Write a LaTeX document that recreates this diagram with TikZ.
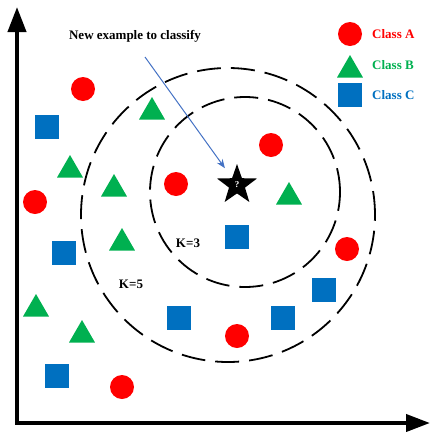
\documentclass[tikz,border=0pt]{standalone}
\usepackage{fontspec}
\setmainfont{Liberation Serif}
\usetikzlibrary{arrows.meta,positioning,shapes.geometric}
\definecolor{clsred}{HTML}{FF0000}
\definecolor{clsgreen}{HTML}{00B050}
\definecolor{clsblue}{HTML}{0070C0}
\definecolor{ptrblue}{HTML}{4472C4}
\tikzset{
  % punkter
  ca/.style={circle,fill=clsred,inner sep=0pt,minimum size=24pt},
  cb/.style={regular polygon,regular polygon sides=3,fill=clsgreen,inner sep=0pt,
             minimum size=30pt},
  cc/.style={rectangle,fill=clsblue,inner sep=0pt,minimum size=24pt},
  nb/.style={star,star points=5,star point ratio=2.5,fill=black,inner sep=0pt,
             minimum size=42pt,text=white,font=\bfseries\fontsize{9}{9}\selectfont},
  % linjer
  ring/.style={draw=black,line width=1.8pt,dash pattern=on 24pt off 10pt},
  axis/.style={line width=4pt,line join=miter,
               {Triangle[length=25pt,width=18pt]}-{Triangle[length=24pt,width=17pt]}},
  ptr/.style={draw=ptrblue,line width=1pt,-{Stealth[length=9pt,width=7pt]},shorten >=12pt},
  lbl/.style={font=\bfseries\fontsize{13}{15}\selectfont,inner sep=0pt},
}

\begin{document}
\begin{tikzpicture}[x=1pt,y=-1pt]
  \useasboundingbox (0,0) rectangle (430,432);
  % axlar
  \coordinate (yt) at (17,7);
  \coordinate (o) at (17,423);
  \coordinate (xt) at (430,423);
  \draw[axis] (yt) -- (o) -- (xt);
  % grannskap
  \draw[ring] (228,215) circle[radius=147pt];
  \draw[ring] (245,192) circle[radius=95pt];
  % klass A
  \node[ca] (a1) at (83,89) {};
  \node[ca] (a2) at (35,202) {};
  \node[ca] (a3) at (176,184) {};
  \node[ca] (a4) at (271,145) {};
  \node[ca] (a5) at (347,249) {};
  \node[ca] (a6) at (237,336) {};
  \node[ca] (a7) at (122,387) {};
  % klass B
  \node[cb] (b1) at (152,112) {};
  \node[cb] (b2) at (70,170) {};
  \node[cb] (b3) at (114,189) {};
  \node[cb] (b4) at (289,197) {};
  \node[cb] (b5) at (122,243) {};
  \node[cb] (b6) at (36,309) {};
  \node[cb] (b7) at (82,335) {};
  % klass C
  \node[cc] (c1) at (47,127) {};
  \node[cc] (c2) at (64,253) {};
  \node[cc] (c3) at (179,318) {};
  \node[cc] (c4) at (57,376) {};
  \node[cc] (c5) at (237,237) {};
  \node[cc] (c6) at (324,290) {};
  \node[cc] (c7) at (283,318) {};
  % nytt exempel
  \node[nb] (q) at (237,185) {?};
  \node[lbl] (t) at (135,36) {New example to classify};
  \coordinate (p) at (145,57);
  \draw[ptr] (p) -- (q);
  \node[lbl] (k3) at (188,243) {K=3};
  \node[lbl] (k5) at (131,284) {K=5};
  % förklaring
  \node[ca] (la) at (350,34) {};
  \node[cb] (lb) at (350,70) {};
  \node[cc] (lc) at (350,95) {};
  \node[lbl,text=clsred,anchor=west] (ta) at (372,34) {Class A};
  \node[lbl,text=clsgreen,anchor=west] (tb) at (372,65) {Class B};
  \node[lbl,text=clsblue,anchor=west] (tc) at (372,95) {Class C};
\end{tikzpicture}
\end{document}
